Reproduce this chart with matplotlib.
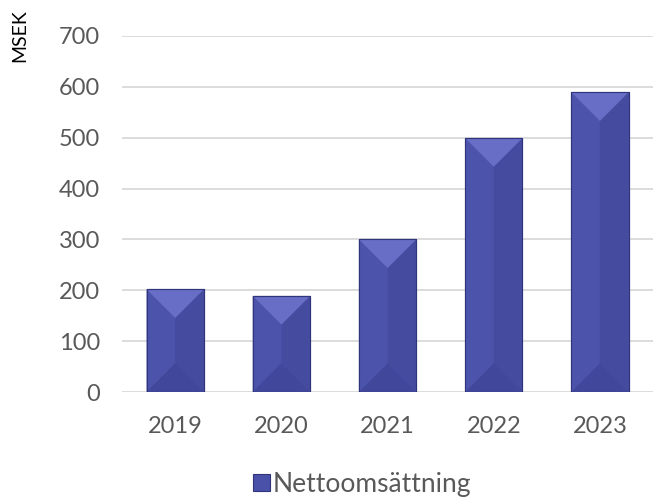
import numpy as np
import matplotlib.pyplot as plt
from matplotlib.patches import Polygon

plt.rcParams['font.family'] = ['Lato', 'DejaVu Sans']

years = ['2019', '2020', '2021', '2022', '2023']
nettoomsattning = [202, 189, 300, 499, 589]
yticks = [0, 100, 200, 300, 400, 500, 600, 700]

base = '#4A51A8'
top_c = '#686EC5'
left_c = '#4C53AB'
right_c = '#454C9F'
bot_c = '#41479A'
edge_c = '#30347A'

fig = plt.figure(figsize=(6.53, 4.97), dpi=100)
ax = fig.add_axes([0.187, 0.211, 0.813, 0.717])

x = np.arange(len(years))
w = 0.54
bars = ax.bar(x, nettoomsattning, width=w, color=base, edgecolor=edge_c,
              linewidth=0.8, zorder=3, label='Nettoomsättning')

ax.set_xlim(-0.5, 4.5)
ax.set_ylim(0, 700)

# bevel depth in data units (45 deg in pixels)
bb = ax.get_position()
ax_w_px = bb.width * fig.get_figwidth() * fig.dpi
ax_h_px = bb.height * fig.get_figheight() * fig.dpi
px_x = ax_w_px / 5.0
px_y = ax_h_px / 700.0
d = (w / 2) * px_x / px_y

for xi, v in zip(x, nettoomsattning):
    l, r = xi - w / 2, xi + w / 2
    dd = min(d, v / 2)
    cx = xi
    # left and right panels
    ax.add_patch(Polygon([(l, 0), (cx, dd), (cx, v - dd), (l, v)],
                         closed=True, fc=left_c, ec='none', zorder=4))
    ax.add_patch(Polygon([(r, 0), (cx, dd), (cx, v - dd), (r, v)],
                         closed=True, fc=right_c, ec='none', zorder=4))
    # top and bottom triangles
    ax.add_patch(Polygon([(l, v), (r, v), (cx, v - dd)],
                         closed=True, fc=top_c, ec='none', zorder=4))
    ax.add_patch(Polygon([(l, 0), (r, 0), (cx, dd)],
                         closed=True, fc=bot_c, ec='none', zorder=4))
    # outline
    ax.add_patch(Polygon([(l, 0), (r, 0), (r, v), (l, v)], closed=True,
                         fc='none', ec=edge_c, lw=0.8, zorder=5))

ax.set_xticks(x)
ax.set_xticklabels(years)
ax.set_yticks(yticks)
ax.tick_params(axis='both', length=0, labelsize=17, labelcolor='#595959')
ax.tick_params(axis='x', pad=17)
ax.tick_params(axis='y', pad=16)
ax.grid(axis='y', color='#D9D9D9', linewidth=1.3, zorder=0)
for s in ax.spines.values():
    s.set_visible(False)

fig.text(0.031, 0.982, 'MSEK', rotation=90, ha='center', va='top',
         fontsize=14, color='black')

leg = fig.legend(handles=[bars], loc='center', bbox_to_anchor=(0.555, 0.026),
                 frameon=False, fontsize=19, handlelength=0.65, handleheight=0.65,
                 handletextpad=0.1, labelcolor='#595959')

fig.savefig('out.png', dpi=100)
